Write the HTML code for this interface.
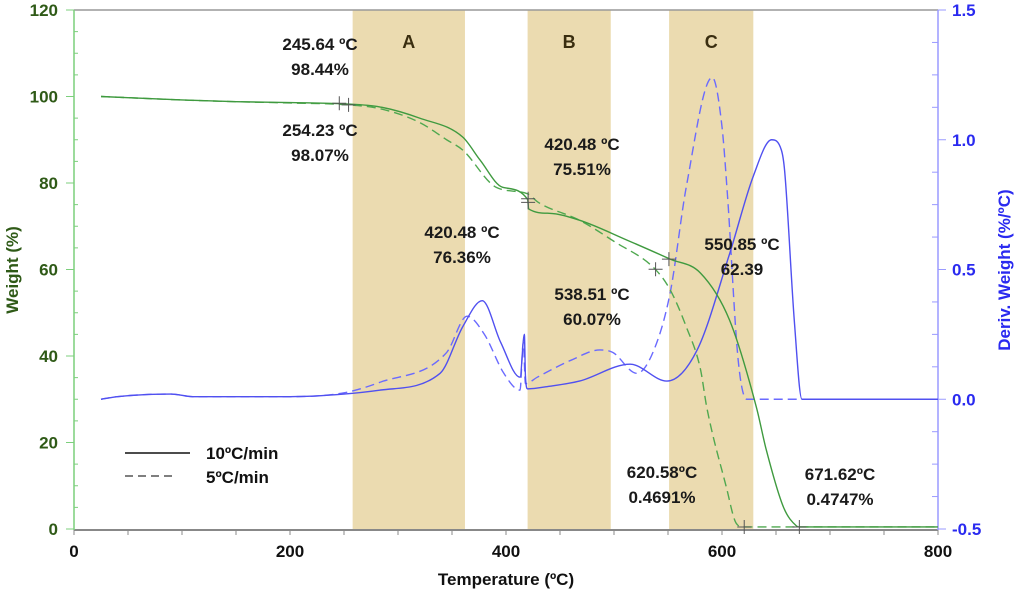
<!DOCTYPE html>
<html><head><meta charset="utf-8"><style>
body{margin:0;background:#fff}
svg text{font-family:"Liberation Sans",Arial,sans-serif;font-weight:bold}
</style></head><body>
<svg id="chart" width="1020" height="596" xmlns="http://www.w3.org/2000/svg">
<g id="bands"></g><g id="axes"></g><g id="series"></g><g id="notes"></g>
</svg>
<script>
const bandStarts=[258,420,551];
const bandEnds=[362,497,629];
const bandLabels=["A","B","C"];
const wSolidT=[25,100,150,200,250,283,320,360,376,397,420,421,440,468,512,552,580,607,632,641,657,669,672,800];
const wSolidV=[100,99.2,98.8,98.6,98.3,97.6,95,90.6,85.3,79,76.2,74,73,71.4,66.8,62.4,59.2,48.3,28,18.3,5,0.7,0.47,0.47];
const wDashT=[25,100,150,200,254,283,320,345,360,391,420,430,468,500,538,552,567,580,586,604,613,620,800];
const wDashV=[100,99.2,98.8,98.5,98.07,97.2,94,90,87.6,79,77.5,75.5,71.4,66.5,60.1,55.3,46.7,37,28,9.7,1.4,0.47,0.47];
const dSolidT=[25,40,90,110,200,250,283,339,360,378,395,413,417,418,420,440,468,515,549,577,607,629,646,655,658,667,674,800];
const dSolidV=[0,0.01,0.02,0.01,0.01,0.02,0.035,0.10,0.28,0.38,0.22,0.085,0.25,0.09,0.04,0.05,0.07,0.135,0.07,0.19,0.56,0.86,1.0,0.96,0.88,0.3,0,0];
const dDashT=[25,40,90,110,200,250,283,345,364,380,398,413,416,418,429,460,487,499,521,536,552,567,591,600,605,615,623,800];
const dDashV=[0,0.01,0.02,0.01,0.01,0.025,0.065,0.18,0.32,0.25,0.1,0.035,0.22,0.06,0.085,0.15,0.19,0.18,0.1,0.18,0.41,0.82,1.24,1.05,0.79,0.15,0,0];
const xTicks=[0,200,400,600,800];
const yTicks=[0,20,40,60,80,100,120];
const y2Ticks=[-0.5,0.0,0.5,1.0,1.5];
const y2Labels=["-0.5","0.0","0.5","1.0","1.5"];
const noteText=[["245.64 ºC","98.44%"],["254.23 ºC","98.07%"],["420.48 ºC","75.51%"],["420.48 ºC","76.36%"],["538.51 ºC","60.07%"],["550.85 ºC","62.39"],["620.58ºC","0.4691%"],["671.62ºC","0.4747%"]];
const notePos=[[320,50,75],[320,136,161],[582,150,175],[462,238,263],[592,300,325],[742,250,275],[662,478,503],[840,480,505]];
const markerT=[245.64,254.23,420.48,420.48,538.51,550.85,620.58,671.62];
const markerW=[98.44,98.07,75.51,76.36,60.07,62.39,0.47,0.47];

const L=74,R=938,T=10,B=529;
const x=v=>L+(v/800)*(R-L);
const y=v=>B-(v/120)*(B-T);
const y2=v=>B-((v+0.5)/2)*(B-T);
const NS="http://www.w3.org/2000/svg";
function mk(tag,attrs,parent){const e=document.createElementNS(NS,tag);for(const k in attrs)e.setAttribute(k,attrs[k]);document.getElementById(parent).appendChild(e);return e;}
function path(ts,vs,fy){
 const X=ts.map(x),Y=vs.map(fy),n=X.length;
 const d=[],m=new Array(n);
 for(let i=0;i<n-1;i++)d.push((Y[i+1]-Y[i])/(X[i+1]-X[i]));
 m[0]=d[0];m[n-1]=d[n-2];
 for(let i=1;i<n-1;i++){m[i]=(d[i-1]*d[i]<=0)?0:(d[i-1]+d[i])/2;}
 for(let i=0;i<n-1;i++){if(d[i]===0){m[i]=0;m[i+1]=0;continue;}
  const a=m[i]/d[i],b=m[i+1]/d[i],s=a*a+b*b;if(s>9){const t=3/Math.sqrt(s);m[i]=t*a*d[i];m[i+1]=t*b*d[i];}}
 let p="M"+X[0]+","+Y[0];
 for(let i=0;i<n-1;i++){const h=(X[i+1]-X[i])/3;
  p+=" C"+(X[i]+h)+","+(Y[i]+m[i]*h)+" "+(X[i+1]-h)+","+(Y[i+1]-m[i+1]*h)+" "+X[i+1]+","+Y[i+1];}
 return p;}
bandStarts.forEach((s,i)=>{
 const r=mk("rect",{x:x(s),y:T,width:x(bandEnds[i])-x(s),height:B-T+1,fill:"#ebdbb0"},"bands");
 
 
 const t=mk("text",{x:(x(s)+x(bandEnds[i]))/2,y:48,"text-anchor":"middle","font-size":18,fill:"#3a2e10"},"bands");
 t.textContent=bandLabels[i];
 
 
});
let a=mk("line",{x1:L,y1:T,x2:R,y2:T,stroke:"#999","stroke-width":1.5},"axes");
a=mk("line",{x1:L,y1:B+1,x2:R,y2:B+1,stroke:"#888","stroke-width":2},"axes");
a=mk("line",{x1:L,y1:T,x2:L,y2:B+1,stroke:"#7ccf7c","stroke-width":1.5},"axes");
a=mk("line",{x1:R,y1:T,x2:R,y2:B+1,stroke:"#9a9aff","stroke-width":1.5},"axes");
for(let v=0;v<=800;v+=50){mk("line",{x1:x(v),y1:B+1,x2:x(v),y2:B+6,stroke:"#888"},"axes");}
for(let v=0;v<=120;v+=5){mk("line",{x1:L-(v%20?0:8),y1:y(v),x2:L+(v%20?4:0),y2:y(v),stroke:"#7ccf7c"},"axes");}
for(let v=-0.5;v<=1.5;v+=0.125){const maj=Math.abs(v*2-Math.round(v*2))<1e-6;mk("line",{x1:R-(maj?0:6),y1:y2(v),x2:R+(maj?8:0),y2:y2(v),stroke:"#9a9aff"},"axes");}
xTicks.forEach(v=>{const t=mk("text",{x:x(v),y:557,"text-anchor":"middle","font-size":17,fill:"#111"},"axes");t.textContent=v;});
yTicks.forEach(v=>{const t=mk("text",{x:58,y:y(v)+6,"text-anchor":"end","font-size":17,fill:"#2f5a17"},"axes");t.textContent=v;});
y2Ticks.forEach((v,i)=>{const t=mk("text",{x:952,y:y2(v)+6,"font-size":17,fill:"#2a2af0"},"axes");t.textContent=y2Labels[i];});
let t=mk("text",{x:L+(R-L)/2,y:585,"text-anchor":"middle","font-size":17,fill:"#111"},"axes");t.textContent="Temperature (ºC)";
t=mk("text",{transform:"translate(18,270) rotate(-90)","text-anchor":"middle","font-size":17,fill:"#2f5a17"},"axes");t.textContent="Weight (%)";
t=mk("text",{transform:"translate(1010,270) rotate(-90)","text-anchor":"middle","font-size":17,fill:"#2a2af0"},"axes");t.textContent="Deriv. Weight (%/ºC)";
let s=mk("path",{d:path(dDashT,dDashV,y2),fill:"none",stroke:"#6a6aff","stroke-width":1.4,"stroke-dasharray":"9,5"},"series");
s=mk("path",{d:path(dSolidT,dSolidV,y2),fill:"none",stroke:"#5050f0","stroke-width":1.4},"series");
s=mk("path",{d:path(wDashT,wDashV,y),fill:"none",stroke:"#4fa84f","stroke-width":1.4,"stroke-dasharray":"9,5"},"series");
s=mk("path",{d:path(wSolidT,wSolidV,y),fill:"none",stroke:"#3f9a3f","stroke-width":1.4},"series");
markerT.forEach((m,i)=>{const px=x(m),py=y(markerW[i]);
 const g=mk("path",{d:`M${px-7},${py}H${px+7}M${px},${py-7}V${py+7}`,stroke:"#555","stroke-width":1},"series");
 });
noteText.forEach((n,i)=>{const p=notePos[i];
 [0,1].forEach(j=>{const tt=mk("text",{x:p[0],y:p[1+j],"text-anchor":"middle","font-size":17,fill:"#1a1a1a"},"notes");tt.textContent=n[j];
 });});
let l=mk("line",{x1:125,y1:453,x2:190,y2:453,stroke:"#111","stroke-width":1.5},"notes");
l=mk("line",{x1:125,y1:476,x2:177,y2:476,stroke:"#555","stroke-width":1.5,"stroke-dasharray":"8,5"},"notes");
t=mk("text",{x:206,y:459,"font-size":17,fill:"#111"},"notes");t.textContent="10ºC/min";
t=mk("text",{x:206,y:483,"font-size":17,fill:"#111"},"notes");t.textContent="5ºC/min";
</script>
</body></html>
